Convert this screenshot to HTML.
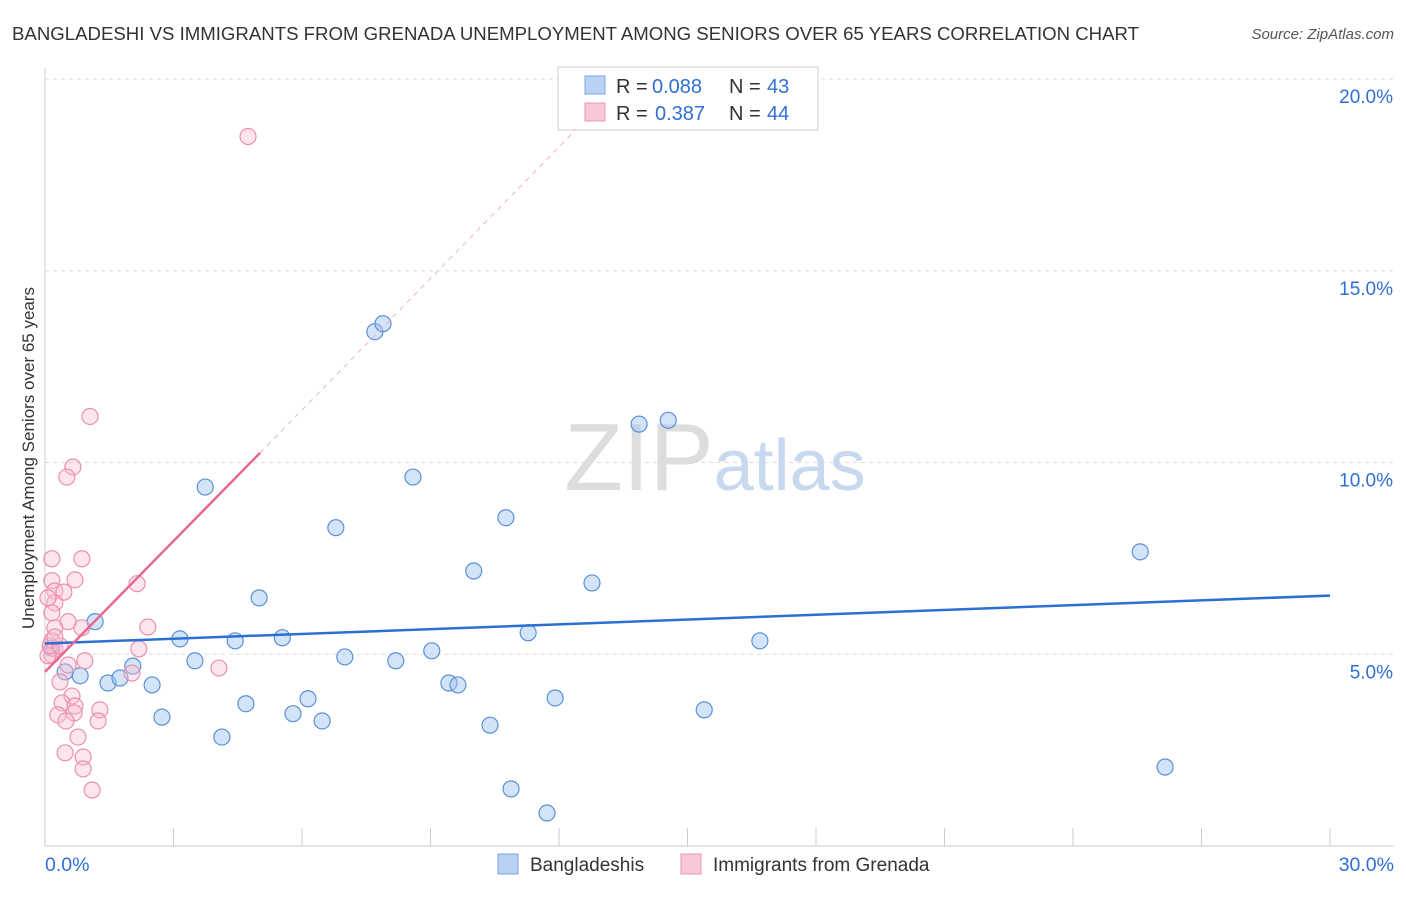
<!DOCTYPE html>
<html><head><meta charset="utf-8"><style>
body{margin:0;background:#fff;font-family:"Liberation Sans",sans-serif;}
svg text{font-family:"Liberation Sans",sans-serif;}
</style></head><body>
<svg id="chart" width="1406" height="892" xmlns="http://www.w3.org/2000/svg">
<text x="12" y="40" font-size="18" fill="#333" textLength="1127" lengthAdjust="spacingAndGlyphs">BANGLADESHI VS IMMIGRANTS FROM GRENADA UNEMPLOYMENT AMONG SENIORS OVER 65 YEARS CORRELATION CHART</text>
<text x="1394" y="39" font-size="15" fill="#555" font-style="italic" text-anchor="end">Source: ZipAtlas.com</text>
<g id="grid"></g>
<text x="715" y="490" font-size="96" text-anchor="middle" fill="#ddd" font-family="Liberation Serif"><tspan>ZIP</tspan><tspan fill="#c8d8ee" font-family="Liberation Sans" font-size="72">atlas</tspan></text>
<text transform="translate(34,458) rotate(-90)" font-size="17" fill="#333" text-anchor="middle">Unemployment Among Seniors over 65 years</text>
<g id="marks"></g>
<g>
<rect x="558" y="67" width="260" height="63" fill="#fff" stroke="#ccc"/>
<rect x="585" y="76" width="20" height="18" fill="#b9d2f3" stroke="#7aa6e0"/>
<text x="616" y="93" font-size="20" fill="#333">R =</text>
<text x="652" y="93" font-size="20" fill="#2f6fd6">0.088</text>
<text x="729" y="93" font-size="20" fill="#333">N =</text>
<text x="767" y="93" font-size="20" fill="#2f6fd6">43</text>
<rect x="585" y="103" width="20" height="18" fill="#f8c8d6" stroke="#ee99b4"/>
<text x="616" y="120" font-size="20" fill="#333">R =</text>
<text x="655" y="120" font-size="20" fill="#2f6fd6">0.387</text>
<text x="729" y="120" font-size="20" fill="#333">N =</text>
<text x="767" y="120" font-size="20" fill="#2f6fd6">44</text>
</g>
<g>
<rect x="498" y="854" width="20" height="20" fill="#b9d2f3" stroke="#7aa6e0"/>
<text x="530" y="871" font-size="19" fill="#333">Bangladeshis</text>
<rect x="681" y="854" width="20" height="20" fill="#f8c8d6" stroke="#ee99b4"/>
<text x="713" y="871" font-size="19" fill="#333">Immigrants from Grenada</text>
</g>
</svg>
<script>
const xTicks=[0,5,10,15,20,25,30];
const yTicks=[5,10,15,20];
const blueX=[1.17,0.82,0.47,1.47,1.75,2.05,2.5,2.73,3.15,3.5,3.74,4.13,4.44,4.69,5.0,5.54,5.79,6.14,6.47,6.79,7.0,7.7,7.89,8.19,8.59,9.03,9.43,9.64,10.01,10.39,10.76,10.88,11.28,11.72,11.91,12.77,13.87,14.55,15.39,16.69,25.57,26.15,0.16];
const blueY=[5.85,4.44,4.54,4.25,4.38,4.69,4.2,3.36,5.4,4.83,9.36,2.84,5.35,3.71,6.47,5.43,3.45,3.84,3.26,8.3,4.93,13.41,13.62,4.83,9.62,5.09,4.25,4.2,7.17,3.15,8.56,1.49,5.56,0.86,3.86,6.86,11.0,11.1,3.55,5.35,7.67,2.06,5.16];
const pinkX=[4.74,1.05,0.65,0.51,0.16,0.86,0.16,0.7,2.15,0.23,0.44,0.23,2.4,0.23,0.86,0.54,0.16,0.23,2.19,0.93,4.06,0.16,0.54,2.03,0.35,0.63,0.4,0.7,1.28,0.3,0.68,0.49,1.24,0.77,0.47,0.89,0.89,1.1,0.07,0.12,0.35,0.16,0.07,0.23];
const pinkY=[18.5,11.2,9.88,9.62,7.49,7.49,6.92,6.94,6.84,6.65,6.62,6.34,5.71,5.69,5.69,5.85,5.35,5.14,5.14,4.83,4.64,4.98,4.72,4.51,4.28,3.91,3.73,3.65,3.55,3.42,3.47,3.26,3.26,2.84,2.43,2.32,2.01,1.46,4.96,5.22,5.22,6.08,6.47,5.45];
const blueTrend=[[0,5.28],[30,6.53]];
const pinkTrend=[[0,4.54],[5.02,10.25]];
const pinkDash=[[5.02,10.25],[12.5,18.8]];
const X0=45,X1=1330,Y0=846,Y20=79;
const sx=v=>X0+(X1-X0)*v/30, sy=v=>Y0-(Y0-Y20)*v/20;
const NS="http://www.w3.org/2000/svg";
function mk(t,a,p){const e=document.createElementNS(NS,t);for(const k in a)e.setAttribute(k,a[k]);p.appendChild(e);return e;}
const grid=document.getElementById('grid'),marks=document.getElementById('marks');
yTicks.forEach(v=>{
const l=mk('line',{x1:X0,x2:1394,y1:sy(v),y2:sy(v),stroke:'#ddd','stroke-dasharray':'4,4'},grid);


const t=mk('text',{x:1393,y:sy(v)+24,'font-size':19,fill:'#2f6fd6','text-anchor':'end'},grid);
t.textContent=v.toFixed(1)+'%';


});
const ax=mk('line',{x1:X0,x2:X0,y1:68,y2:Y0,stroke:'#ccc'},grid);


const bx=mk('line',{x1:X0,x2:1394,y1:Y0,y2:Y0,stroke:'#ccc'},grid);


for(let i=0;i<=10;i++){const x=X0+(X1-X0)*i/10;
const tk=mk('line',{x1:x,x2:x,y1:828,y2:Y0,stroke:'#ccc'},grid);

}
[[0,'start',45],[30,'end',1394]].forEach(([v,a,x])=>{
const t=mk('text',{x:x,y:871,'font-size':19.5,fill:'#2f6fd6','text-anchor':a},grid);
t.textContent=v.toFixed(1)+'%';

});
blueX.forEach((v,i)=>{const c=mk('circle',{cx:sx(v),cy:sy(blueY[i]),r:8,fill:'rgba(160,195,240,0.45)',stroke:'#5b8fd6','stroke-width':1.2},marks);

});
pinkX.forEach((v,i)=>{const c=mk('circle',{cx:sx(v),cy:sy(pinkY[i]),r:8,fill:'rgba(248,190,210,0.4)',stroke:'#ec8fae','stroke-width':1.2},marks);

});
const bl=mk('line',{x1:sx(blueTrend[0][0]),y1:sy(blueTrend[0][1]),x2:sx(blueTrend[1][0]),y2:sy(blueTrend[1][1]),stroke:'#2a6fd3','stroke-width':2.5},marks);


const pl=mk('line',{x1:sx(pinkTrend[0][0]),y1:sy(pinkTrend[0][1]),x2:sx(pinkTrend[1][0]),y2:sy(pinkTrend[1][1]),stroke:'#e8688f','stroke-width':2.5},marks);


const pd=mk('line',{x1:sx(pinkDash[0][0]),y1:sy(pinkDash[0][1]),x2:sx(pinkDash[1][0]),y2:sy(pinkDash[1][1]),stroke:'#f0b0c4','stroke-width':1,'stroke-dasharray':'5,5'},marks);


</script>
</body></html>
